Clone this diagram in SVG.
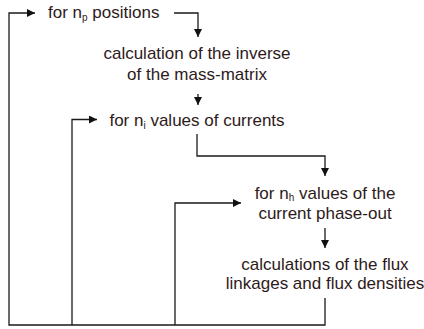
<svg xmlns="http://www.w3.org/2000/svg" width="424" height="329" viewBox="0 0 424 329">
<style>
text{font-family:"Liberation Sans",Arial,sans-serif;font-size:17px;fill:#2e1a1a}
.c{text-anchor:middle}
.sub{font-size:10px}
.ln{fill:none;stroke:#1a1a1a;stroke-width:1.3}
</style>
<defs>
<marker id="ah" markerUnits="userSpaceOnUse" markerWidth="9" markerHeight="9" refX="8" refY="4" orient="auto">
<path d="M0,0 L8,4 L0,8 z" fill="#111"/>
</marker>
</defs>
<rect width="424" height="329" fill="#fff"/>
<g id="connectors">
<path class="ln" d="M325,298 V325 H9 V13 H35" marker-end="url(#ah)"/>
<path class="ln" d="M72,325 V119.5 H97" marker-end="url(#ah)"/>
<path class="ln" d="M175,325 V203 H241" marker-end="url(#ah)"/>
<path class="ln" d="M174,13 H198 V37" marker-end="url(#ah)"/>
<path class="ln" d="M198,94 V105" marker-end="url(#ah)"/>
<path class="ln" d="M197,134 V156 H325 V176" marker-end="url(#ah)"/>
<path class="ln" d="M325,228 V248" marker-end="url(#ah)"/>
</g>
<g id="loop-positions">
<text x="48" y="18">for n<tspan class="sub" dy="3">p</tspan><tspan dy="-3"> positions</tspan></text>
</g>
<g id="inverse-mass-matrix">
<text class="c" x="197" y="59">calculation of the inverse</text>
<text class="c" x="197" y="79.5">of the mass-matrix</text>
</g>
<g id="loop-currents">
<text class="c" x="197" y="126">for n<tspan class="sub" dy="3">i</tspan><tspan dy="-3"> values of currents</tspan></text>
</g>
<g id="loop-phase-out">
<text class="c" x="325" y="198.5">for n<tspan class="sub" dy="2.5">h</tspan><tspan dy="-2.5"> values of the</tspan></text>
<text class="c" x="325" y="218.5">current phase-out</text>
</g>
<g id="flux-calculation">
<text class="c" x="325" y="270">calculations of the flux</text>
<text class="c" x="325" y="289">linkages and flux densities</text>
</g>
</svg>
